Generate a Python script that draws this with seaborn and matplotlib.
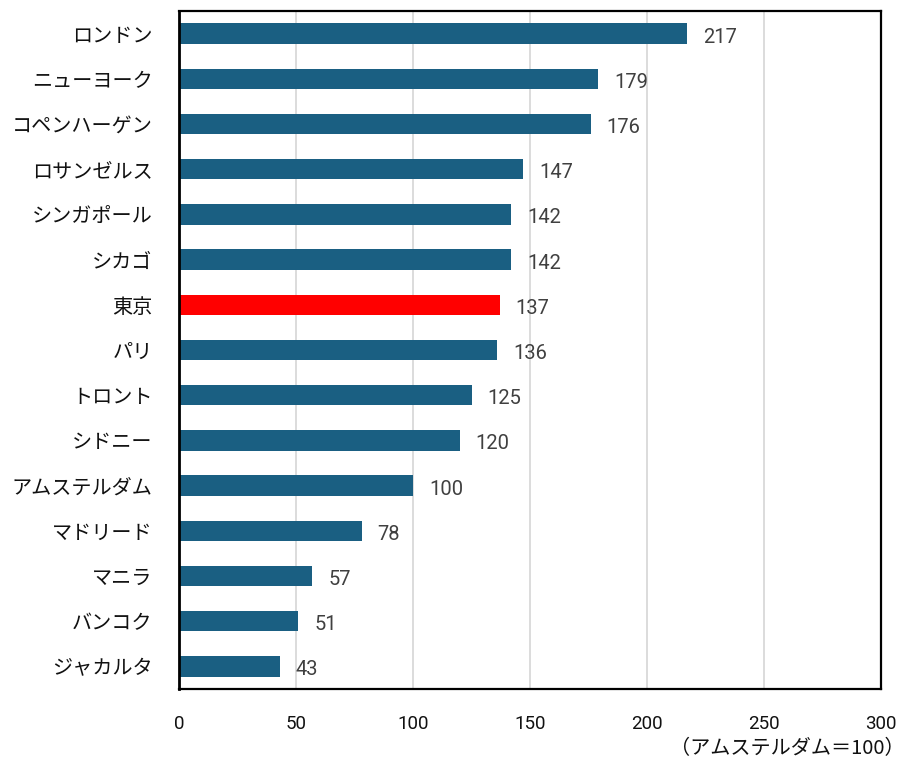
import matplotlib
matplotlib.use("Agg")
import matplotlib.pyplot as plt
import seaborn as sns
import pandas as pd

cities = ["ロンドン", "ニューヨーク", "コペンハーゲン", "ロサンゼルス", "シンガポール",
          "シカゴ", "東京", "パリ", "トロント", "シドニー", "アムステルダム",
          "マドリード", "マニラ", "バンコク", "ジャカルタ"]
values = [217, 179, 176, 147, 142, 142, 137, 136, 125, 120, 100, 78, 57, 51, 43]
highlight = "東京"
x_ticks = [0, 50, 100, 150, 200, 250, 300]
note = "（アムステルダム＝100）"

base_color = "#1a5f82"
hi_color = "#ff0000"

df = pd.DataFrame({"city": cities, "value": values})
df["group"] = ["hi" if c == highlight else "base" for c in cities]

sns.set_theme(style="white")
plt.rcParams["font.family"] = ["Noto Sans CJK JP", "DejaVu Sans"]

fig = plt.figure(figsize=(9.07, 7.65), dpi=100)
ax = fig.add_axes([179 / 907, 1 - 689 / 765, (881 - 179) / 907, (689 - 11) / 765])

sns.barplot(data=df, x="value", y="city", hue="group",
            palette={"base": base_color, "hi": hi_color}, saturation=1,
            orient="h", width=0.45, legend=False, ax=ax, zorder=3,
            linewidth=0, edgecolor="none")

ax.set_xlim(0, 300)
ax.set_ylim(len(cities) - 0.5, -0.5)
ax.set_xticks(x_ticks)
ax.set_xticklabels([str(t) for t in x_ticks], fontsize=13.5, color="#111111",
                   family=["Roboto", "DejaVu Sans"])
ax.tick_params(axis="x", length=0, pad=19)
ax.tick_params(axis="y", length=0, pad=19, labelsize=14.5, labelcolor="#111111")
ax.set_xlabel("")
ax.set_ylabel("")

ax.grid(axis="x", color="#d9d9d9", linewidth=1.3, zorder=0)
ax.grid(axis="y", visible=False)
for name, sp in ax.spines.items():
    sp.set_visible(True)
    sp.set_color("black")
    sp.set_linewidth(1.6)
ax.spines["left"].set_linewidth(2.0)
ax.spines["left"].set_zorder(4)

for i, v in enumerate(values):
    ax.annotate(str(v), xy=(v, i), xytext=(11.5, -2.5), textcoords="offset points",
                ha="left", va="center", fontsize=14.5, color="#404040",
                family=["Roboto", "DejaVu Sans"])

fig.text(905 / 907, 1 - 749 / 765, note, ha="right", va="center",
         fontsize=14.5, color="#111111")

fig.savefig("out.png", dpi=100)
